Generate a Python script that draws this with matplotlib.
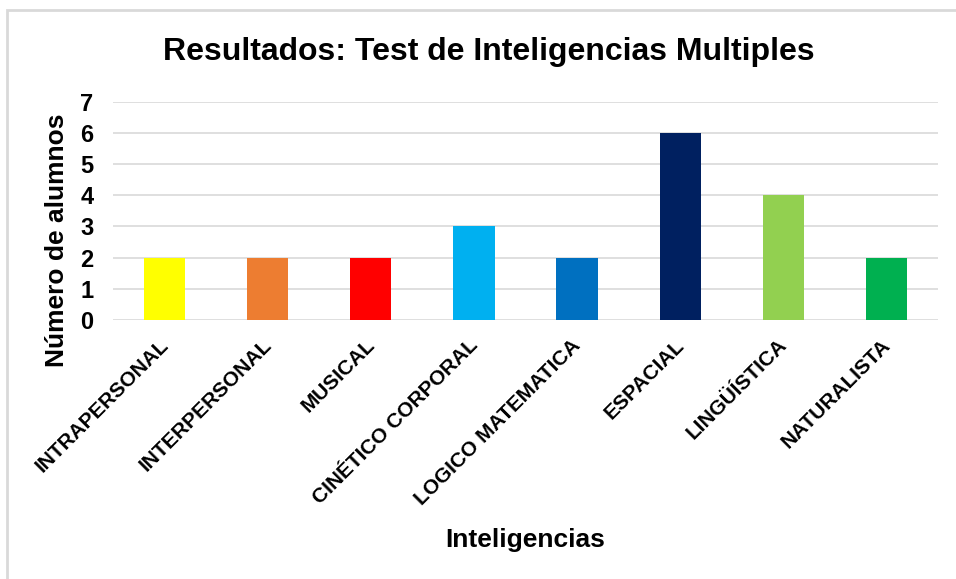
import matplotlib.pyplot as plt
import matplotlib.transforms as mtransforms
from matplotlib.patches import Rectangle
plt.rc('font', family=['Liberation Sans', 'DejaVu Sans'], weight='bold')

categorias = ['INTRAPERSONAL', 'INTERPERSONAL', 'MUSICAL', 'CINÉTICO CORPORAL',
              'LOGICO MATEMATICA', 'ESPACIAL', 'LINGÜÍSTICA', 'NATURALISTA']
alumnos = [2, 2, 2, 3, 2, 6, 4, 2]
colores = ['#FFFF00', '#ED7D31', '#FF0000', '#00B0F0',
           '#0070C0', '#002060', '#92D050', '#00B050']
yticks = [0, 1, 2, 3, 4, 5, 6, 7]

W, H = 956, 579
fig = plt.figure(figsize=(W / 100, H / 100), dpi=100)

# chart frame (light gray, runs off the right/bottom edge)
fig.patches.append(Rectangle((7 / W, -0.05), 1.1, 1.05 - 10 / H,
                             transform=fig.transFigure, fill=False,
                             edgecolor='#d9d9d9', linewidth=2))

ax = fig.add_axes([113 / W, (H - 320) / H, 825 / W, 218.3 / H])
x = list(range(len(categorias)))
ax.bar(x, alumnos, width=0.4, color=colores, zorder=3)

ax.set_xlim(-0.5, len(categorias) - 0.5)
ax.set_ylim(0, 7)
ax.set_yticks(yticks)
for yv in yticks:
    ax.axhline(yv, color='#d9d9d9', linewidth=1.2, zorder=1)
for s in ax.spines.values():
    s.set_visible(False)
ax.tick_params(axis='y', length=0, labelsize=17, pad=14)
ax.tick_params(axis='x', length=0, pad=16)

ax.set_xticks(x)
ax.set_xticklabels(categorias, rotation=45, ha='right', va='center',
                   rotation_mode='anchor', fontsize=15)
offset = mtransforms.ScaledTranslation(1 / 100, 0, fig.dpi_scale_trans)
for lbl in ax.get_xticklabels():
    lbl.set_transform(lbl.get_transform() + offset)

fig.text(489 / W, 1 - 52 / H, 'Resultados: Test de Inteligencias Multiples',
         ha='center', va='center', fontsize=23, fontweight='bold')
fig.text(57 / W, 1 - 240 / H, 'Número de alumnos', rotation=90,
         ha='center', va='center', fontsize=19, fontweight='bold')
fig.text(525 / W, 1 - 540 / H, 'Inteligencias',
         ha='center', va='center', fontsize=19, fontweight='bold')

fig.savefig('out.png', dpi=100)
